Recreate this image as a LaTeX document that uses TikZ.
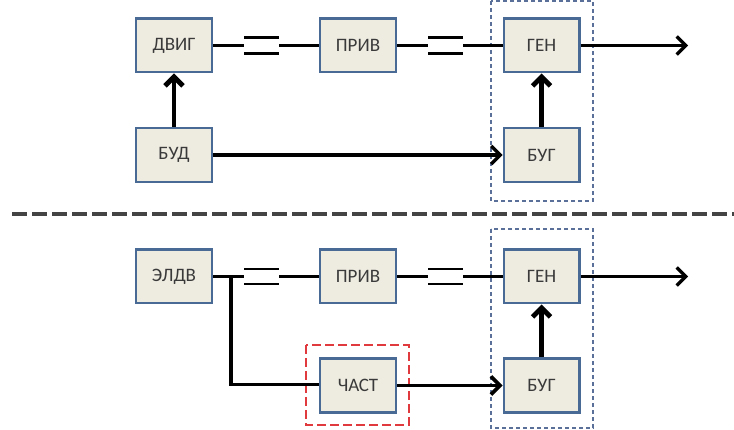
\documentclass[tikz,border=0pt]{standalone}
\usepackage{fontspec}
\setmainfont{Carlito}
\usetikzlibrary{arrows.meta}
\definecolor{boxfill}{HTML}{EEECE1}
\definecolor{boxborder}{HTML}{4A6A96}
\definecolor{txt}{HTML}{3A3A3A}
\definecolor{grpblue}{HTML}{5A7099}
\definecolor{grpred}{HTML}{E0393E}
\definecolor{sepgray}{HTML}{444444}
\tikzset{
  blk/.style={draw=boxborder, fill=boxfill, line width=2.4pt, minimum width=75.6pt, minimum height=53.6pt, inner sep=0pt, font=\fontsize{19}{22}\selectfont, text=txt},
  conn/.style={line width=3.3pt, line join=miter},
  arr/.style={conn, -{Straight Barb[length=9pt,width=18pt]}},
  uparr/.style={line width=4.8pt, -{Straight Barb[length=9pt,width=18pt]}},
  eqbar/.style={line width=2.8pt},
  grp/.style={draw=grpblue, line width=1.2pt, dash pattern=on 4pt off 3pt},
  redgrp/.style={draw=grpred, line width=2.2pt, dash pattern=on 9pt off 4pt},
  sepline/.style={draw=sepgray, line width=3.4pt, dash pattern=on 15pt off 5pt}
}
\begin{document}
\begin{tikzpicture}[x=1pt,y=-1pt]
\useasboundingbox (0,0) rectangle (734,430);
% group boxes
\draw[grp] (491,1) rectangle (593,201);
\draw[grp] (491,229) rectangle (593,428);
\draw[redgrp] (306,345) rectangle (409,425);
% separator
\coordinate (sepL) at (12,214);
\coordinate (sepR) at (734,214);
\draw[sepline] (sepL) -- (sepR);
% top row
\node[blk] (dvig) at (174,45.5) {ДВИГ};
\node[blk] (priv1) at (358,45.5) {ПРИВ};
\node[blk] (gen1) at (541.5,45.5) {ГЕН};
\node[blk] (bud) at (174,155) {БУД};
\node[blk] (bug1) at (541.5,155) {БУГ};
% bottom row
\node[blk] (eldv) at (174,276.5) {ЭЛДВ};
\node[blk] (priv2) at (358,276.5) {ПРИВ};
\node[blk] (gen2) at (541.5,276.5) {ГЕН};
\node[blk] (chast) at (358,385.5) {ЧАСТ};
\node[blk] (bug2) at (541.5,385.5) {БУГ};
% coupling points top
\coordinate (a1) at (244,45.5); \coordinate (b1) at (279,45.5);
\coordinate (a2) at (428,45.5); \coordinate (b2) at (463,45.5);
\coordinate (out1) at (688,45.5);
\draw[conn] (dvig.east) -- (a1);
\draw[conn] (b1) -- (priv1.west);
\draw[conn] (priv1.east) -- (a2);
\draw[conn] (b2) -- (gen1.west);
\draw[eqbar] ([yshift=-8pt]a1) -- ([yshift=-8pt]b1);
\draw[eqbar] ([yshift=8pt]a1) -- ([yshift=8pt]b1);
\draw[eqbar] ([yshift=-8pt]a2) -- ([yshift=-8pt]b2);
\draw[eqbar] ([yshift=8pt]a2) -- ([yshift=8pt]b2);
\draw[arr] (gen1.east) -- (out1);
\draw[uparr] (bud.north) -- (dvig.south);
\draw[uparr] (bug1.north) -- (gen1.south);
\draw[arr] (bud.east) -- (bug1.west);
% coupling points bottom
\coordinate (c1) at (244,276.5); \coordinate (d1) at (279,276.5);
\coordinate (c2) at (428,276.5); \coordinate (d2) at (463,276.5);
\coordinate (out2) at (688,276.5);
\coordinate (j) at (231,276.5);
\coordinate (jd) at (231,384.5);
\draw[conn] (eldv.east) -- (c1);
\draw[conn] (d1) -- (priv2.west);
\draw[conn] (priv2.east) -- (c2);
\draw[conn] (d2) -- (gen2.west);
\draw[eqbar] ([yshift=-7.5pt]c1) -- ([yshift=-7.5pt]d1);
\draw[eqbar] ([yshift=7.5pt]c1) -- ([yshift=7.5pt]d1);
\draw[eqbar] ([yshift=-7.5pt]c2) -- ([yshift=-7.5pt]d2);
\draw[eqbar] ([yshift=7.5pt]c2) -- ([yshift=7.5pt]d2);
\draw[arr] (gen2.east) -- (out2);
\draw[conn, line width=3.8pt] (j) -- (jd) -- (chast.west |- jd);
\draw[arr, line width=3.6pt] (chast.east) -- (bug2.west);
\draw[uparr] (bug2.north) -- (gen2.south);
\end{tikzpicture}
\end{document}
